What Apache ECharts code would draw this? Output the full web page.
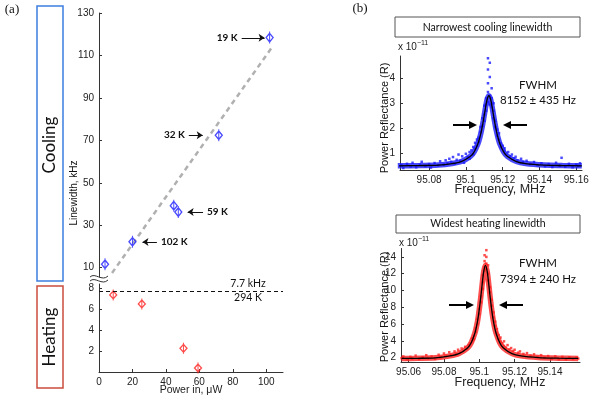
<!DOCTYPE html>
<html>
<head>
<meta charset="utf-8">
<script src="https://cdn.jsdelivr.net/npm/echarts@6/dist/echarts.min.js"></script>
<style>
  html, body { margin: 0; padding: 0; background: #fff; }
  #main { width: 598px; height: 398px; }
</style>
</head>
<body>
<div id="main"></div>
<script>
// ---- data ----
// (a) linewidth vs optical power
const coolPoints = [[3.6, 11.6], [20.0, 22.2], [44.7, 39.2], [47.4, 36.2], [71.6, 72.4], [102.0, 118.4]];
const heatPoints = [[8.5, 7.36], [25.6, 6.5], [50.5, 2.26], [59.2, 0.38]];
const coolFit = [[7.8, 7.5], [104, 114.5]];
const roomLinewidth = 7.7;
const topTicks = [10, 30, 50, 70, 90, 110, 130];
const bottomTicks = [2, 4, 6, 8];
const powerTicks = [0, 20, 40, 60, 80, 100];

// (b) spectra: narrowest cooling linewidth
const coolSpecTicks = [95.08, 95.1, 95.12, 95.14, 95.16];
const coolSpecYTicks = [1, 2, 3, 4];
const coolSpecFit = [[95.063, 0.50], [95.075, 0.51], [95.085, 0.53], [95.0925, 0.59], [95.0975, 0.67], [95.1025, 0.88],
  [95.1045, 1.06], [95.1065, 1.37], [95.1075, 1.61], [95.1085, 1.92], [95.1095, 2.31], [95.1105, 2.75], [95.1115, 3.14],
  [95.1125, 3.30], [95.1135, 3.14], [95.1145, 2.75], [95.1155, 2.31], [95.1165, 1.92], [95.1175, 1.61], [95.1185, 1.37],
  [95.1205, 1.06], [95.1225, 0.88], [95.1275, 0.67], [95.1325, 0.59], [95.1425, 0.53], [95.1525, 0.51], [95.163, 0.50]];
const coolSpecPts = [[95.065, 0.52], [95.066, 0.41], [95.068, 0.58], [95.070, 0.47], [95.071, 0.62], [95.073, 0.44],
  [95.075, 0.55], [95.076, 0.66], [95.078, 0.49], [95.080, 0.57], [95.081, 0.43], [95.083, 0.61], [95.085, 0.52],
  [95.086, 0.68], [95.088, 0.55], [95.089, 0.72], [95.090, 0.60], [95.091, 0.78], [95.092, 0.66], [95.093, 0.85],
  [95.094, 0.58], [95.095, 0.74], [95.096, 0.95], [95.097, 0.70], [95.098, 0.88], [95.099, 0.62], [95.100, 0.98],
  [95.101, 0.85], [95.102, 1.05], [95.102, 0.78], [95.103, 1.12], [95.104, 0.96], [95.104, 1.25], [95.105, 1.18],
  [95.105, 1.42], [95.106, 1.30], [95.106, 1.55], [95.107, 1.62], [95.107, 1.45], [95.108, 1.85], [95.108, 2.05],
  [95.109, 2.10], [95.109, 2.40], [95.110, 2.55], [95.110, 2.90], [95.110, 2.30], [95.111, 2.95], [95.111, 3.20],
  [95.111, 2.70], [95.112, 3.45], [95.112, 3.05], [95.112, 3.80], [95.112, 4.80], [95.112, 4.35], [95.113, 4.62],
  [95.113, 3.30], [95.113, 2.95], [95.113, 4.05], [95.114, 3.20], [95.114, 2.85], [95.114, 3.60], [95.115, 2.70],
  [95.115, 3.00], [95.115, 2.40], [95.116, 2.30], [95.116, 2.05], [95.117, 1.95], [95.117, 1.70], [95.118, 1.55],
  [95.118, 1.80], [95.119, 1.40], [95.119, 1.25], [95.120, 1.30], [95.121, 1.10], [95.121, 1.20], [95.122, 0.98],
  [95.123, 1.05], [95.124, 0.88], [95.125, 0.95], [95.126, 0.80], [95.127, 0.86], [95.128, 0.72], [95.130, 0.78],
  [95.131, 0.66], [95.133, 0.70], [95.135, 0.58], [95.137, 0.65], [95.139, 0.52], [95.141, 0.60], [95.143, 0.48],
  [95.145, 0.57], [95.147, 0.45], [95.149, 0.62], [95.151, 0.50], [95.152, 0.82], [95.154, 0.46], [95.156, 0.58],
  [95.158, 0.44], [95.160, 0.55], [95.161, 0.49], [95.162, 0.60]];

// (b) spectra: widest heating linewidth
const heatSpecTicks = [95.06, 95.08, 95.1, 95.12, 95.14];
const heatSpecYTicks = [2, 4, 6, 8, 10, 12, 14];
const heatSpecFit = [[95.056, 1.91], [95.065, 1.93], [95.075, 1.99], [95.0835, 2.22], [95.0885, 2.49], [95.0935, 3.19],
  [95.0955, 3.82], [95.0975, 4.92], [95.0985, 5.79], [95.0995, 6.99], [95.1005, 8.58], [95.1015, 10.48], [95.1025, 12.24],
  [95.1035, 13.0], [95.1045, 12.24], [95.1055, 10.48], [95.1065, 8.58], [95.1075, 6.99], [95.1085, 5.79], [95.1095, 4.92],
  [95.1115, 3.82], [95.1135, 3.19], [95.1185, 2.49], [95.1235, 2.22], [95.1335, 2.02], [95.145, 1.95], [95.156, 1.91]];
const heatSpecPts = [[95.056, 1.95], [95.057, 2.15], [95.059, 1.80], [95.061, 2.10], [95.062, 1.90], [95.064, 2.25],
  [95.066, 1.85], [95.068, 2.05], [95.070, 2.30], [95.071, 1.95], [95.073, 2.15], [95.075, 1.85], [95.077, 2.35],
  [95.078, 2.05], [95.080, 2.50], [95.081, 2.20], [95.083, 2.65], [95.084, 2.30], [95.086, 2.75], [95.087, 2.40],
  [95.088, 2.95], [95.089, 2.60], [95.090, 3.10], [95.091, 2.80], [95.092, 3.30], [95.093, 3.05], [95.094, 3.50],
  [95.095, 3.70], [95.096, 3.95], [95.096, 4.30], [95.097, 4.60], [95.097, 4.20], [95.098, 5.10], [95.098, 5.50],
  [95.099, 6.00], [95.099, 6.60], [95.100, 7.20], [95.100, 7.80], [95.101, 8.60], [95.101, 9.30], [95.102, 10.20],
  [95.102, 11.00], [95.102, 11.80], [95.103, 12.40], [95.103, 13.50], [95.103, 12.80], [95.103, 14.20], [95.104, 14.80],
  [95.104, 13.20], [95.104, 12.60], [95.104, 14.00], [95.105, 12.00], [95.105, 11.20], [95.105, 13.00], [95.106, 10.40],
  [95.106, 9.80], [95.107, 8.90], [95.107, 8.20], [95.108, 7.40], [95.108, 6.80], [95.109, 6.30], [95.109, 5.80],
  [95.110, 5.40], [95.110, 5.00], [95.111, 4.70], [95.111, 4.20], [95.112, 4.40], [95.112, 3.90], [95.113, 3.70],
  [95.114, 3.95], [95.114, 3.40], [95.115, 3.20], [95.116, 3.50], [95.117, 3.00], [95.118, 3.15], [95.119, 2.80],
  [95.120, 2.95], [95.122, 2.60], [95.123, 2.75], [95.125, 2.45], [95.127, 2.55], [95.129, 2.25], [95.131, 2.40],
  [95.133, 2.10], [95.135, 2.30], [95.137, 2.00], [95.139, 2.20], [95.141, 1.90], [95.143, 2.15], [95.145, 1.85],
  [95.147, 2.10], [95.149, 1.80], [95.151, 2.05], [95.153, 1.85], [95.155, 2.00], [95.156, 1.90]];

// ---- styling helpers ----
const FONT = 'Liberation Sans';
const HUM = 'Lato';
const BLUE = '#1c1cff';
const RED = '#ff2222';
const diamond = 'path://M5,2 L9,7 L5,12 L1,7 Z M5,0 L5,14';

function valueAxis(gridIndex, min, max, ticks, extra) {
  return Object.assign({
    type: 'value', gridIndex, min, max,
    splitLine: { show: false },
    axisLine: { show: true, onZero: false, lineStyle: { color: '#333', width: 1 } },
    axisTick: { show: true, inside: true, length: 3, customValues: ticks, lineStyle: { color: '#333' } },
    axisLabel: { customValues: ticks, color: '#222', fontFamily: FONT, fontSize: 10, margin: 5 }
  }, extra || {});
}

function arrowMark(x1, x2, y, text) {
  return [
    { coord: [x1, y], label: { show: true, formatter: text } },
    { coord: [x2, y] }
  ];
}

function arrow(x1, y, x2, w) {
  const dir = x2 > x1 ? 1 : -1;
  return {
    type: 'group',
    children: [
      { type: 'line', shape: { x1, y1: y, x2: x2 - dir * 6, y2: y }, style: { stroke: '#000', lineWidth: w } },
      { type: 'polygon', shape: { points: [[x2, y], [x2 - dir * 8, y - 4], [x2 - dir * 8, y + 4]] }, style: { fill: '#000' } }
    ]
  };
}

function txt(x, y, text, size, extra) {
  return {
    type: 'text', x, y,
    style: Object.assign({ text, fontFamily: HUM, fontSize: size, fill: '#111', align: 'center', verticalAlign: 'middle' }, extra || {})
  };
}

function vtxt(x, y, text, size, family) {
  return {
    type: 'text', x, y, rotation: Math.PI / 2,
    style: { text, fontFamily: family, fontSize: size, fill: '#111', align: 'center', verticalAlign: 'middle' }
  };
}

const myChart = echarts.init(document.getElementById('main'));

const option = {
  animation: false,
  backgroundColor: '#fff',
  grid: [
    { left: 99, top: 13, width: 184, height: 264 },
    { left: 99, top: 284, width: 184, height: 88 },
    { left: 400, top: 56, width: 182, height: 114 },
    { left: 401, top: 248.5, width: 179, height: 113.5 }
  ],
  xAxis: [
    valueAxis(0, 0, 110, powerTicks, { show: false }),
    valueAxis(1, 0, 110, powerTicks),
    valueAxis(2, 95.0642, 95.1631, coolSpecTicks),
    valueAxis(3, 95.0557, 95.157, heatSpecTicks)
  ],
  yAxis: [
    valueAxis(0, 5.6, 130, topTicks),
    valueAxis(1, 0, 8.4, bottomTicks),
    valueAxis(2, 0.332, 4.89, coolSpecYTicks),
    valueAxis(3, 1.49, 15, heatSpecYTicks)
  ],
  series: [
    {
      type: 'line', xAxisIndex: 0, yAxisIndex: 0, data: coolFit, symbol: 'none',
      lineStyle: { color: '#b0b0b0', width: 2.5, type: [5, 4] }, z: 1
    },
    {
      type: 'scatter', xAxisIndex: 0, yAxisIndex: 0, data: coolPoints,
      symbol: diamond, symbolSize: [7, 12],
      itemStyle: { color: 'rgba(255,255,255,0)', borderColor: BLUE, borderWidth: 1.3 },
      markLine: {
        silent: true, symbol: ['none', 'arrow'], symbolSize: 6,
        lineStyle: { color: '#111', width: 1, type: 'solid' },
        label: { position: 'start', distance: 4, color: '#111', fontFamily: HUM, fontSize: 10, fontWeight: 'bold' },
        data: [
          arrowMark(85.3, 99.0, 118.3, '19 K'),
          arrowMark(53.7, 62.0, 72.4, '32 K'),
          arrowMark(62.2, 53.0, 36.2, '59 K'),
          arrowMark(34.6, 26.0, 22.1, '102 K')
        ]
      }
    },
    {
      type: 'scatter', xAxisIndex: 1, yAxisIndex: 1, data: heatPoints,
      symbol: diamond, symbolSize: [7, 11],
      itemStyle: { color: 'rgba(255,255,255,0)', borderColor: RED, borderWidth: 1.3 },
      markLine: {
        silent: true, symbol: 'none',
        lineStyle: { color: '#111', width: 1, type: [4, 3] },
        label: { show: false },
        data: [{ yAxis: roomLinewidth }]
      }
    },
    {
      type: 'line', xAxisIndex: 2, yAxisIndex: 2, data: coolSpecFit, symbol: 'none', smooth: 0.3,
      lineStyle: { color: BLUE, width: 5.5, opacity: 0.8 }, z: 1
    },
    {
      type: 'scatter', xAxisIndex: 2, yAxisIndex: 2, data: coolSpecPts, symbol: 'rect', symbolSize: 2.5,
      itemStyle: { color: BLUE }, z: 2
    },
    {
      type: 'line', xAxisIndex: 2, yAxisIndex: 2, data: coolSpecFit, symbol: 'none', smooth: 0.3,
      lineStyle: { color: '#000', width: 1.3 }, z: 3
    },
    {
      type: 'line', xAxisIndex: 3, yAxisIndex: 3, data: heatSpecFit, symbol: 'none', smooth: 0.3,
      lineStyle: { color: RED, width: 5.5, opacity: 0.8 }, z: 1
    },
    {
      type: 'scatter', xAxisIndex: 3, yAxisIndex: 3, data: heatSpecPts, symbol: 'rect', symbolSize: 2.5,
      itemStyle: { color: RED }, z: 2
    },
    {
      type: 'line', xAxisIndex: 3, yAxisIndex: 3, data: heatSpecFit, symbol: 'none', smooth: 0.3,
      lineStyle: { color: '#000', width: 1.3 }, z: 3
    }
  ],
  graphic: [
    // panel letters
    txt(12, 10, '(a)', 13, { fontFamily: 'Liberation Serif' }),
    txt(360, 9, '(b)', 13, { fontFamily: 'Liberation Serif' }),
    // cooling / heating boxes
    { type: 'rect', shape: { x: 37, y: 6, width: 26, height: 275 }, style: { fill: 'none', stroke: '#3d7fe0', lineWidth: 1.5 } },
    { type: 'rect', shape: { x: 37, y: 286, width: 26, height: 102 }, style: { fill: 'none', stroke: '#cc4b3c', lineWidth: 1.5 } },
    vtxt(50, 145, 'Cooling', 17, HUM),
    vtxt(50, 337, 'Heating', 17, HUM),
    // axis names, panel (a)
    vtxt(74, 193, 'Linewidth, kHz', 10, FONT),
    { type: 'text', x: 191, y: 390, style: { text: 'Power in, \u03bcW', fontFamily: FONT, fontSize: 10.5, fill: '#222', align: 'center', verticalAlign: 'middle' } },
    // axis break marks
    { type: 'bezierCurve', shape: { x1: 90, y1: 277, cpx1: 95, cpy1: 272, cpx2: 102, cpy2: 282, x2: 108, y2: 276 }, style: { stroke: '#333', lineWidth: 1, fill: 'none' } },
    { type: 'bezierCurve', shape: { x1: 90, y1: 281, cpx1: 95, cpy1: 276, cpx2: 102, cpy2: 286, x2: 108, y2: 280 }, style: { stroke: '#333', lineWidth: 1, fill: 'none' } },
    // room temperature labels
    txt(248, 283.5, '7.7 kHz', 10.5),
    txt(248, 297.5, '294 K', 10.5),
    // panel (b) titles
    { type: 'rect', shape: { x: 395, y: 17, width: 185, height: 20 }, style: { fill: '#fff', stroke: '#555', lineWidth: 1 } },
    txt(487.5, 27.5, 'Narrowest cooling linewidth', 10.5),
    { type: 'rect', shape: { x: 396, y: 215, width: 184, height: 18 }, style: { fill: '#fff', stroke: '#555', lineWidth: 1 } },
    txt(488, 224, 'Widest heating linewidth', 10.5),
    // exponent markers
    { type: 'text', x: 398, y: 47, style: { text: 'x 10{s|\u221211}', rich: { s: { fontSize: 7, verticalAlign: 'bottom', padding: [0, 0, 8, 0] } }, fontFamily: FONT, fontSize: 10, fill: '#222', align: 'left', verticalAlign: 'middle' } },
    { type: 'text', x: 399, y: 243, style: { text: 'x 10{s|\u221211}', rich: { s: { fontSize: 7, verticalAlign: 'bottom', padding: [0, 0, 8, 0] } }, fontFamily: FONT, fontSize: 10, fill: '#222', align: 'left', verticalAlign: 'middle' } },
    // axis names, panel (b)
    vtxt(385, 118, 'Power Reflectance (R)', 11, FONT),
    vtxt(385, 307, 'Power Reflectance (R)', 11, FONT),
    { type: 'text', x: 500, y: 190, style: { text: 'Frequency, MHz', fontFamily: FONT, fontSize: 12.5, fill: '#222', align: 'center', verticalAlign: 'middle' } },
    { type: 'text', x: 500, y: 383, style: { text: 'Frequency, MHz', fontFamily: FONT, fontSize: 12.5, fill: '#222', align: 'center', verticalAlign: 'middle' } },
    // FWHM annotations
    txt(538, 85, 'FWHM', 11.5),
    txt(538, 100.5, '8152 \u00b1 435 Hz', 11.5),
    txt(538, 263, 'FWHM', 11.5),
    txt(538, 279, '7394 \u00b1 240 Hz', 11.5),
    arrow(453, 125, 477, 2),
    arrow(527, 125, 503, 2),
    arrow(449, 305, 474, 2),
    arrow(523, 305, 499, 2)
  ]
};

myChart.setOption(option);
</script>
</body>
</html>
